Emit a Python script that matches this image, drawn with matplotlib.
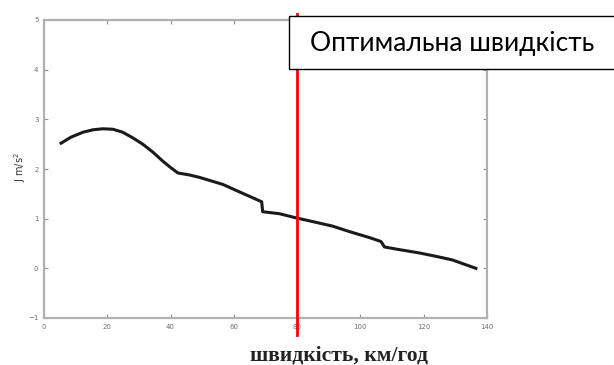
import matplotlib
matplotlib.use("Agg")
import matplotlib.pyplot as plt
from matplotlib.patches import Rectangle

speed = [5.4, 8.5, 12.3, 15.5, 18.6, 21.8, 24.9, 28.0, 31.2, 34.4, 37.5, 40.0, 42.3,
         46.0, 49.2, 56.5, 62.8, 68.8, 69.1, 74.4, 79.4, 85.0, 91.2, 96.5, 102.8, 106.5,
         107.6, 112.0, 118.6, 124.0, 129.0, 136.5]
accel = [2.52, 2.64, 2.74, 2.79, 2.81, 2.80, 2.74, 2.63, 2.50, 2.34, 2.16, 2.03, 1.92,
         1.88, 1.83, 1.69, 1.51, 1.34, 1.14, 1.10, 1.02, 0.94, 0.85, 0.74, 0.62, 0.54,
         0.43, 0.38, 0.31, 0.24, 0.17, 0.00]
optimal_speed = 80
xticks = [0, 20, 40, 60, 80, 100, 120, 140]
yticks = [-1, 0, 1, 2, 3, 4, 5]
box_text = "Оптимальна швидкість"
xlabel = "швидкість, км/год"
ylabel = "J m/s$^2$"

fig = plt.figure(figsize=(6.14, 3.65), dpi=100)
ax = fig.add_axes([44/614, 1-318/365, (487-44)/614, (318-20)/365])
ax.plot(speed, accel, color="#1a1a1a", lw=2.2, solid_joinstyle="round")
ax.set_xlim(0, 140)
ax.set_ylim(-1, 5)
ax.set_xticks(xticks)
ax.set_yticks(yticks)
for s in ax.spines.values():
    s.set_color("#b0b0b0")
    s.set_linewidth(1.6)
ax.tick_params(direction="in", length=3, width=0.8, color="#909090",
               labelsize=5, labelcolor="#707070", top=True, right=True, pad=4)

# red optimal line extending beyond axes
ax.axvline(optimal_speed, ymin=(318-335)/298, ymax=(318-14)/298, color="#ff0000",
           lw=2.0, clip_on=False, zorder=3)

# box with label (figure coords)
fig.patches.append(Rectangle((289/614, 1-69/365), (620-289)/614, (69-16)/365,
                             transform=fig.transFigure, facecolor="white",
                             edgecolor="black", lw=1.0, zorder=5))
fig.text(452/614, 1-44/365, box_text, ha="center", va="center", fontsize=19,
         family="Lato", zorder=6)

fig.text(339/614, 1-356/365, xlabel, ha="center", va="center", fontsize=15.5,
         family="Liberation Serif", fontweight="bold", color="#222222")
fig.text(20/614, 1-167/365, ylabel, ha="center", va="center", fontsize=7,
         rotation=90, color="#333333")

fig.savefig("out.png", dpi=100)
